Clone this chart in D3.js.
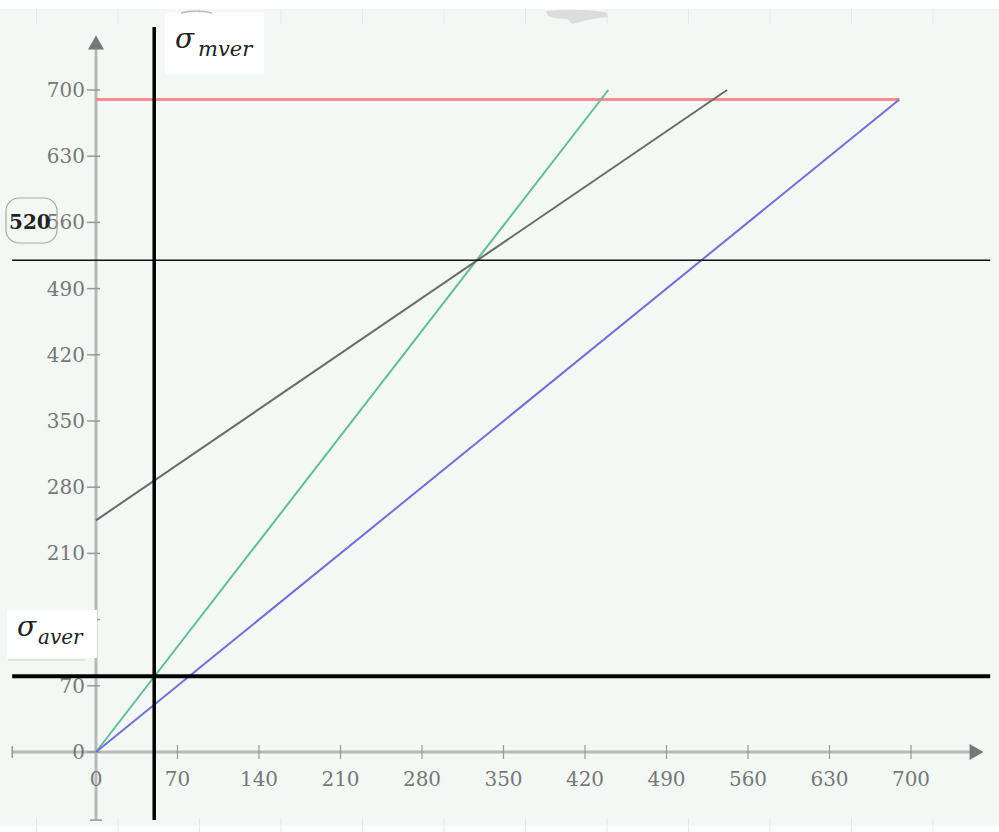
<!DOCTYPE html>
<html>
<head>
<meta charset="utf-8">
<script src="https://cdn.jsdelivr.net/npm/d3@7"></script>
<style>
  body { margin: 0; background: #fff; }
  svg { display: block; }
</style>
</head>
<body>
<div id="chart"></div>
<script>
// data
let tickValues = [0, 70, 140, 210, 280, 350, 420, 490, 560, 630, 700];
let sigmaMver = 50;      // vertical black line
let sigmaAver = 80;      // horizontal black line
let markLevel = 520;     // thin horizontal marker
let redLine = [[0, 690], [690, 690]];
let greenLine = [[0, 0], [440, 700]];
let grayLine = [[0, 245], [542, 700]];
let blueLine = [[0, 0], [690, 690]];

let width = 999, height = 832;
let tickFont = "DejaVu Serif, Liberation Serif, serif";

let svg = d3.select("#chart")
    .append("svg")
    .attr("width", width)
    .attr("height", height);

// plot background
svg.append("rect")
    .attr("x", 0).attr("y", 9)
    .attr("width", width).attr("height", 817)
    .attr("fill", "#f3f8f5");

let x = d3.scaleLinear().domain([0, 700]).range([96, 911]);
let y = d3.scaleLinear().domain([0, 700]).range([752, 90]);

// faint grid stubs along top and bottom edges
svg.append("g").selectAll("line")
    .data(d3.range(-70, 770, 70))
    .enter().append("line")
    .attr("x1", d => x(d) + 22).attr("x2", d => x(d) + 22)
    .attr("y1", 9).attr("y2", 24)
    .attr("stroke", "#e2eaf0").attr("stroke-width", 1);
svg.append("g").selectAll("line")
    .data(d3.range(-70, 770, 70))
    .enter().append("line")
    .attr("x1", d => x(d) + 22).attr("x2", d => x(d) + 22)
    .attr("y1", 818).attr("y2", 832)
    .attr("stroke", "#e2eaf0").attr("stroke-width", 1);

// faint leftover smudge at the top edge
svg.append("path")
    .attr("d", "M546,11 Q575,8 606,12 L608,17 Q590,19 580,22 L572,24 L568,19 Q555,19 548,16 Z")
    .attr("fill", "#dcdcdc");

let axisColor = "#b8b8b8";

// x axis line with arrow
svg.append("line")
    .attr("x1", x(-72)).attr("x2", x(752))
    .attr("y1", y(0)).attr("y2", y(0))
    .attr("stroke", axisColor).attr("stroke-width", 3);
svg.append("path")
    .attr("d", `M${x(752) - 2},${y(0) - 8} L${x(752) + 12},${y(0)} L${x(752) - 2},${y(0) + 8} Z`)
    .attr("fill", "#777");
svg.append("line")
    .attr("x1", x(-72)).attr("x2", x(-72))
    .attr("y1", y(0) - 6).attr("y2", y(0) + 6)
    .attr("stroke", "#999").attr("stroke-width", 1.5);

// y axis line with arrow
svg.append("line")
    .attr("x1", x(0)).attr("x2", x(0))
    .attr("y1", y(-72)).attr("y2", y(745))
    .attr("stroke", axisColor).attr("stroke-width", 3);
svg.append("path")
    .attr("d", `M${x(0) - 8},${y(745) + 2} L${x(0)},${y(745) - 12} L${x(0) + 8},${y(745) + 2} Z`)
    .attr("fill", "#777");
svg.append("line")
    .attr("x1", x(0) - 6).attr("x2", x(0) + 6)
    .attr("y1", y(-72)).attr("y2", y(-72))
    .attr("stroke", "#999").attr("stroke-width", 1.5);

// tick marks and labels
let xTicks = svg.append("g").selectAll("g").data(tickValues.slice(1)).enter().append("g");
xTicks.append("line")
    .attr("x1", d => x(d)).attr("x2", d => x(d))
    .attr("y1", y(0) - 7).attr("y2", y(0) + 7)
    .attr("stroke", "#999").attr("stroke-width", 1.2);
xTicks.append("text")
    .attr("x", d => x(d)).attr("y", y(0) + 34)
    .attr("text-anchor", "middle")
    .attr("font-family", tickFont)
    .attr("font-size", 20)
    .attr("fill", "#777")
    .text(d => d);

svg.append("text")
    .attr("x", x(0)).attr("y", y(0) + 34)
    .attr("text-anchor", "middle")
    .attr("font-family", tickFont)
    .attr("font-size", 20).attr("fill", "#777")
    .text("0");

let yTicks = svg.append("g").selectAll("g").data(tickValues).enter().append("g");
yTicks.append("line")
    .attr("x1", x(0) - 9).attr("x2", x(0) + 4)
    .attr("y1", d => y(d)).attr("y2", d => y(d))
    .attr("stroke", "#999").attr("stroke-width", 1.5);
yTicks.append("text")
    .attr("x", x(0) - 11).attr("y", d => y(d) + 7)
    .attr("text-anchor", "end")
    .attr("font-family", tickFont)
    .attr("font-size", 20)
    .attr("fill", "#777")
    .text(d => d);

// data lines
let line = d3.line().x(d => x(d[0])).y(d => y(d[1]));
svg.append("path").datum(redLine).attr("d", line)
    .attr("fill", "none").attr("stroke", "#ff8a8a").attr("stroke-width", 3);
svg.append("path").datum(greenLine).attr("d", line)
    .attr("fill", "none").attr("stroke", "#62bc95").attr("stroke-width", 2);
svg.append("path").datum(grayLine).attr("d", line)
    .attr("fill", "none").attr("stroke", "#6a6a6a").attr("stroke-width", 2);
svg.append("path").datum(blueLine).attr("d", line)
    .attr("fill", "none").attr("stroke", "#7070d4").attr("stroke-width", 2);

// marker lines
svg.append("line")
    .attr("x1", x(-72)).attr("x2", x(768))
    .attr("y1", y(markLevel)).attr("y2", y(markLevel))
    .attr("stroke", "#111").attr("stroke-width", 1.5);
svg.append("line")
    .attr("x1", x(-72)).attr("x2", x(768))
    .attr("y1", y(sigmaAver)).attr("y2", y(sigmaAver))
    .attr("stroke", "#000").attr("stroke-width", 4);
svg.append("line")
    .attr("x1", x(sigmaMver)).attr("x2", x(sigmaMver))
    .attr("y1", 27).attr("y2", y(-72))
    .attr("stroke", "#000").attr("stroke-width", 3.5);

// sigma_mver label
svg.append("rect")
    .attr("x", 165).attr("y", 13).attr("width", 99).attr("height", 61)
    .attr("fill", "#fff");
svg.append("path")
    .attr("d", "M181,13 Q196,9 212,13")
    .attr("fill", "none").attr("stroke", "#bbb").attr("stroke-width", 1.5);
svg.append("text")
    .attr("x", 175).attr("y", 48)
    .attr("font-family", "DejaVu Serif, serif")
    .attr("font-style", "italic").attr("font-size", 28).attr("fill", "#222")
    .text("σ");
svg.append("text")
    .attr("x", 198).attr("y", 56)
    .attr("font-family", "DejaVu Serif, serif")
    .attr("font-style", "italic").attr("font-size", 21).attr("fill", "#222")
    .text("mver");

// sigma_aver label
svg.append("rect")
    .attr("x", 7).attr("y", 610).attr("width", 90).attr("height", 48)
    .attr("fill", "#fff");
svg.append("line")
    .attr("x1", 8).attr("x2", 85).attr("y1", 660).attr("y2", 660)
    .attr("stroke", "#ccc").attr("stroke-width", 1);
svg.append("text")
    .attr("x", 17).attr("y", 636)
    .attr("font-family", "DejaVu Serif, serif")
    .attr("font-style", "italic").attr("font-size", 28).attr("fill", "#222")
    .text("σ");
svg.append("text")
    .attr("x", 38).attr("y", 644)
    .attr("font-family", "DejaVu Serif, serif")
    .attr("font-style", "italic").attr("font-size", 20).attr("fill", "#222")
    .text("aver");

// 520 marker label
svg.append("rect")
    .attr("x", 6).attr("y", 198).attr("width", 51).attr("height", 45)
    .attr("rx", 13)
    .attr("fill", "none").attr("stroke", "#aaa").attr("stroke-width", 1.2);
svg.append("text")
    .attr("x", 9).attr("y", 229)
    .attr("font-family", tickFont)
    .attr("font-size", 20).attr("font-weight", "bold").attr("fill", "#222")
    .text(markLevel);
</script>
</body>
</html>
